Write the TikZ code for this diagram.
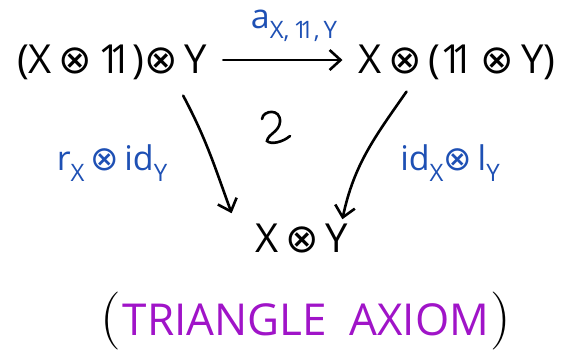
\documentclass[tikz,border=0pt]{standalone}
\usepackage{fontspec}
\setsansfont{Open Sans}
\newfontfamily\symf{DejaVu Sans}
\usetikzlibrary{arrows.meta,calc}
\definecolor{inkblue}{RGB}{30,80,180}
\definecolor{inkpurple}{RGB}{160,20,200}
\newcommand{\ot}{{\symf\,⊗\,}}
\newcommand{\otc}{{\symf ⊗}}
\newcommand{\unitobj}{1\kern-0.3em1}
\newcommand{\sub}[1]{\raisebox{-0.3em}{\fontsize{24}{26}\selectfont #1}}
\begin{document}
\begin{tikzpicture}[x=1pt,y=-1pt,
  obj/.style={font=\sffamily\fontsize{40}{46}\selectfont, inner sep=2pt},
  lbl/.style={text=inkblue, font=\sffamily\fontsize{34}{38}\selectfont, inner sep=1pt},
  arr/.style={-{Straight Barb[length=11pt,width=20pt,line width=2.6pt]}, line width=2.6pt, line cap=round}]
\useasboundingbox (0,0) rectangle (567,349);
\node[obj] (A) at (112,62) {(X\ot\unitobj)\otc\,Y};
\node[obj] (B) at (457,62) {X\ot(\unitobj\ot Y)};
\node[obj] (C) at (302,238) {X\ot Y};
\node[lbl] (la) at (294,26) {a\sub{X,\,\unitobj,\,Y}};
\node[lbl] (lr) at (112,163) {r\sub{X}\,\otc\,id\sub{Y}};
\node[lbl] (ll) at (450,163) {id\sub{X}\otc\,l\sub{Y}};
\draw[arr] ($(A.east)+(14,-2)$) -- ($(B.west)+(-14,-2)$);
\draw[arr] ($(A.south east)+(-26,14)$) to[out=-62,in=110] ($(C.north west)+(-22,-8)$);
\draw[arr] ($(B.south west)+(50,10)$) to[out=-125,in=78] ($(C.north east)+(-8,-2)$);
\draw[line width=2.6pt, line cap=round] (262,119) .. controls (263,110) and (281,108) .. (280,122)
  .. controls (279,132) and (268,134) .. (267,141) .. controls (271,145) and (283,142) .. (290,136);
\node (ax) at (306,321) {{\fontsize{58}{60}\selectfont(}\,{\color{inkpurple}\sffamily\fontsize{44}{48}\selectfont TRIANGLE\ \ AXIOM}\,{\fontsize{58}{60}\selectfont)}};
\end{tikzpicture}
\end{document}
